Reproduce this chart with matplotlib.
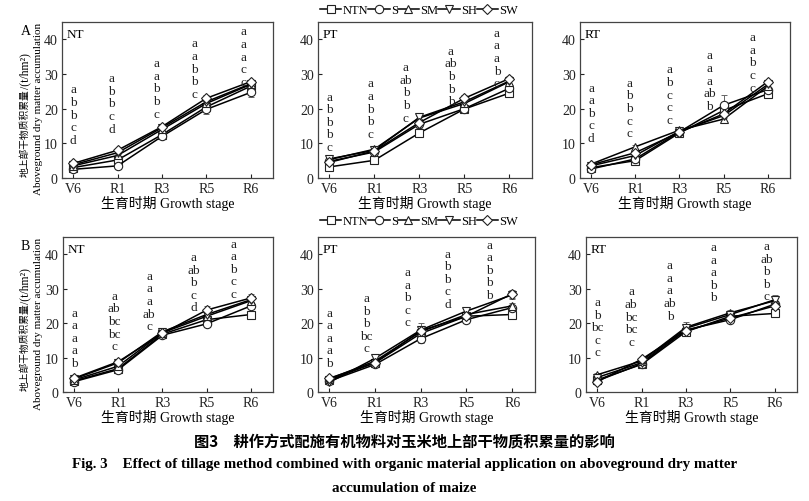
import numpy as np
import matplotlib
matplotlib.use('Agg')
from matplotlib import pyplot as plt
from matplotlib.lines import Line2D

plt.rcParams['font.family'] = ['Liberation Serif', 'Noto Sans CJK SC']

#%% Data (t/hm2)
stages = ['V6', 'R1', 'R3', 'R5', 'R6']
treatments = ['NTN', 'S', 'SM', 'SH', 'SW']

# rows: NTN, S, SM, SH, SW ; columns: V6, R1, R3, R5, R6
a_nt = [[3.0, 5.2, 12.5, 20.5, 26.5],
        [2.5, 3.5, 12.0, 19.8, 24.7],
        [3.5, 6.5, 14.0, 21.5, 27.0],
        [3.8, 7.3, 14.5, 22.0, 27.2],
        [4.2, 8.0, 14.8, 23.0, 27.8]]
a_pt = [[3.2, 5.1, 13.0, 19.9, 24.5],
        [4.8, 7.5, 15.5, 20.0, 25.9],
        [5.3, 8.3, 17.3, 21.5, 27.8],
        [5.5, 8.0, 17.5, 22.0, 28.0],
        [4.5, 7.8, 16.0, 23.0, 28.7]]
a_rt = [[3.0, 5.0, 13.0, 19.5, 24.3],
        [2.6, 5.5, 13.3, 21.0, 25.5],
        [4.0, 9.0, 13.8, 17.0, 26.5],
        [3.5, 6.5, 13.5, 18.0, 27.0],
        [3.8, 7.3, 13.2, 18.5, 27.8]]
b_nt = [[3.2, 6.8, 16.8, 21.0, 22.5],
        [3.0, 6.5, 16.5, 19.8, 25.0],
        [3.5, 7.5, 17.2, 22.0, 26.5],
        [3.8, 8.5, 17.5, 22.5, 26.8],
        [4.0, 8.8, 17.0, 23.8, 27.3]]
b_pt = [[3.5, 8.5, 17.0, 22.0, 22.5],
        [3.2, 8.0, 15.5, 21.0, 24.5],
        [3.8, 9.0, 17.5, 22.5, 25.0],
        [2.8, 9.8, 18.0, 23.5, 28.2],
        [4.0, 8.5, 17.8, 22.0, 28.5]]
b_rt = [[3.5, 8.0, 17.5, 22.0, 22.8],
        [3.2, 8.2, 18.0, 21.0, 25.5],
        [5.0, 9.0, 18.8, 23.0, 26.5],
        [4.2, 8.5, 18.5, 22.5, 26.8],
        [3.0, 9.5, 17.8, 21.5, 25.0]]

# standard errors
a_nt_err = [[0.4, 0.5, 0.8, 1.2, 1.0], [0.3, 0.5, 0.6, 1.3, 1.2], [0.3, 0.4, 1.6, 1.0, 0.8],
            [0.3, 0.4, 0.8, 1.0, 0.8], [0.3, 0.4, 0.8, 0.8, 0.6]]
a_pt_err = [[0.5, 0.4, 0.6, 1.0, 1.2], [0.4, 0.5, 1.0, 0.8, 1.0], [0.4, 0.5, 0.6, 1.5, 0.8],
            [0.4, 0.5, 0.6, 0.8, 0.8], [0.4, 0.5, 0.6, 1.0, 0.8]]
a_rt_err = [[0.4, 0.4, 0.6, 1.2, 1.0], [0.4, 0.4, 0.6, 2.8, 0.8], [0.4, 0.5, 1.0, 0.8, 0.8],
            [0.4, 0.5, 0.6, 0.8, 0.8], [0.4, 0.5, 0.6, 0.8, 0.6]]
b_nt_err = [[0.4, 0.5, 0.8, 1.0, 0.6], [0.4, 0.5, 0.8, 0.8, 0.8], [0.4, 0.5, 1.5, 0.8, 0.8],
            [0.4, 0.5, 0.8, 0.8, 0.8], [0.4, 0.5, 0.8, 1.2, 1.2]]
b_pt_err = [[0.4, 0.8, 0.8, 0.8, 0.6], [0.4, 0.6, 1.2, 0.8, 0.8], [0.4, 0.6, 0.8, 0.8, 0.8],
            [0.4, 0.8, 2.0, 0.8, 1.2], [0.4, 0.6, 0.8, 0.8, 1.2]]
b_rt_err = [[0.4, 0.6, 0.8, 0.8, 0.6], [0.4, 0.6, 0.8, 0.8, 0.8], [0.6, 0.6, 1.5, 0.8, 0.8],
            [0.4, 0.6, 0.8, 0.8, 1.5], [0.4, 0.6, 0.8, 0.8, 0.8]]

# significance letters per stage (top to bottom)
a_nt_sig = ['a b b c d', 'a b b c d', 'a a b b c', 'a a b b c', 'a a a c c']
a_pt_sig = ['a b b b c', 'a a b b c', 'a ab b b c', 'a ab b b b', 'a a a b c']
a_rt_sig = ['a a b c d', 'a b b c c', 'a b c c c', 'a a a ab b', 'a a b c c']
b_nt_sig = ['a a a a b', 'a ab bc bc c', 'a a a ab c', 'a ab b c d', 'a a b c c']
b_pt_sig = ['a a a a b', 'a b b bc c', 'a a b c c', 'a b b c d', 'a a b b b']
b_rt_sig = ['a b bc c c', 'a ab bc bc c', 'a a a ab b', 'a a a b b', 'a ab b b c']

#%% Layout
W, H = 809, 502
panels = [
    # values, errors, letters, tillage, group, rect(px: left, top, width, height), letter top y, letter x shift
    (a_nt, a_nt_err, a_nt_sig, 'NT', 'A', (62, 23, 211, 156),
     [25.6, 28.8, 33.2, 38.8, 42.3], [0, -0.13, -0.13, -0.26, -0.17]),
    (a_pt, a_pt_err, a_pt_sig, 'PT', None, (318, 23, 214, 156),
     [23.5, 27.3, 32.0, 36.7, 41.9], [0, -0.09, -0.3, -0.3, -0.28]),
    (a_rt, a_rt_err, a_rt_sig, 'RT', None, (580, 23, 210, 156),
     [26.1, 27.5, 31.3, 35.4, 40.7], [0, -0.13, -0.23, -0.32, -0.35]),
    (b_nt, b_nt_err, b_nt_sig, 'NT', 'B', (63, 238, 210, 155),
     [23.0, 27.9, 33.7, 39.2, 43.1], [0, -0.09, -0.3, -0.3, -0.4]),
    (b_pt, b_pt_err, b_pt_sig, 'PT', None, (318, 238, 217, 155),
     [23.0, 27.3, 34.8, 40.2, 42.8], [0, -0.19, -0.3, -0.41, -0.49]),
    (b_rt, b_rt_err, b_rt_sig, 'RT', None, (586, 238, 211, 155),
     [26.1, 29.2, 36.8, 42.1, 42.4], [0, -0.23, -0.36, -0.38, -0.19]),
]
markers = {'NTN': 's', 'S': 'o', 'SM': '^', 'SH': 'v', 'SW': 'D'}
msize = {'NTN': 5.5, 'S': 6, 'SM': 6, 'SH': 6, 'SW': 5.5}

fig = plt.figure(figsize=(W / 100, H / 100), dpi=100)
x = np.arange(len(stages))

for vals, errs, sig, till, grp, (l, t, w, h), ytop, xsh in panels:
    ax = fig.add_axes([l / W, 1 - (t + h) / H, w / W, h / H])
    for k, trt in enumerate(treatments):
        ax.errorbar(x, vals[k], yerr=errs[k], fmt='none', ecolor='#666',
                    elinewidth=0.7, capsize=2, capthick=0.7, zorder=2)
        ax.plot(x, vals[k], '-', color='k', lw=1.1, marker=markers[trt], ms=msize[trt],
                mfc='white', mec='#222', mew=0.8, zorder=3)
    for j in range(len(stages)):
        for i, let in enumerate(sig[j].split()):
            ax.text(x[j] + xsh[j], ytop[j] - i * 3.65, let, ha='center', va='center',
                    fontsize=9.5, color='#222')
    ax.text(0.02, 0.96, till, transform=ax.transAxes, ha='left', va='top', fontsize=9.5)
    ax.set_xlim(-0.25, 4.5)
    ax.set_ylim(0, 45)
    ax.set_xticks(x)
    ax.set_xticklabels(stages)
    ax.set_yticks([0, 10, 20, 30, 40])
    ax.tick_params(direction='in', length=3, width=0.8, labelsize=10, pad=3, colors='#222')
    for s in ax.spines.values():
        s.set_color('#444')
        s.set_linewidth(0.9)
    ax.set_xlabel('生育时期 Growth stage', fontsize=10, labelpad=0)
    if grp is not None:
        fig.text(21 / W, 1 - (t + 2) / H, grp, fontsize=10, ha='left', va='top')
        ysplit = 1 - (t + h / 2 - 12) / H
        fig.text(25 / W, ysplit, '地上部干物质积累量', rotation=90, ha='center',
                 va='top', fontsize=7)
        fig.text(25 / W, ysplit, '/(t/hm²)', rotation=90, ha='center',
                 va='bottom', fontsize=8.5)
        fig.text(39 / W, 1 - (t + h / 2 + 8) / H, 'Aboveground dry matter accumulation',
                 rotation=90, ha='center', va='center', fontsize=8)

# legends
handles = [Line2D([0], [0], color='k', lw=1.1, marker=markers[t], ms=msize[t],
                  mfc='white', mec='#222', mew=0.8) for t in treatments]
for ylg in [11, 222]:
    fig.legend(handles, treatments, loc='center', bbox_to_anchor=(419 / W, 1 - ylg / H),
               ncol=5, frameon=False, handlelength=1.7, columnspacing=0.0,
               handletextpad=0.1, fontsize=9, borderaxespad=0)

# caption
fig.text(0.5, 1 - 442 / H, '图3　耕作方式配施有机物料对玉米地上部干物质积累量的影响',
         ha='center', va='center', fontsize=11, fontweight='bold',
         family=['Noto Sans CJK SC'])
fig.text(0.5, 1 - 465 / H,
         'Fig. 3    Effect of tillage method combined with organic material application on aboveground dry matter',
         ha='center', va='center', fontsize=10.8, fontweight='bold')
fig.text(0.5, 1 - 489 / H, 'accumulation of maize', ha='center', va='center',
         fontsize=10.8, fontweight='bold')

plt.savefig('out.png', dpi=100)
